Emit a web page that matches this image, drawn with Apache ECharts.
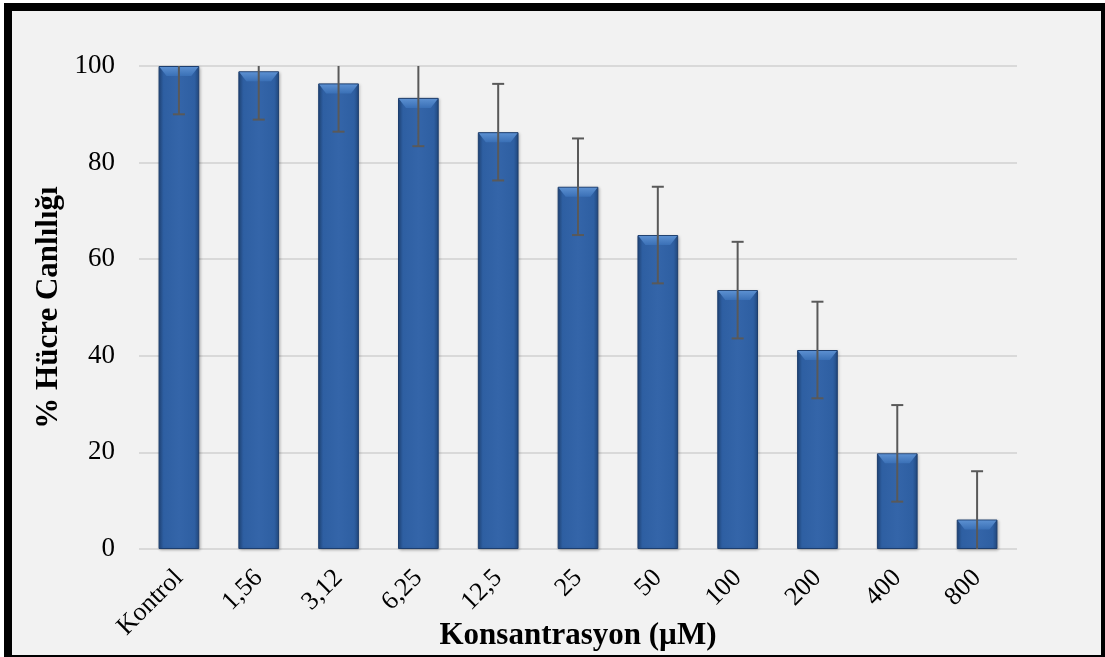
<!DOCTYPE html>
<html><head><meta charset="utf-8">
<script src="https://cdn.jsdelivr.net/npm/echarts@6/dist/echarts.min.js"></script>
<style>
html,body{margin:0;padding:0;background:#fff;overflow:hidden;}
#frame{position:absolute;left:4px;top:3px;width:1105px;height:660px;box-sizing:border-box;border:8px solid #000;background:#f2f2f2;}
#chart{position:absolute;left:0;top:0;width:1105px;height:657px;}
</style></head>
<body>
<div id="frame"></div>
<div id="chart"></div>
<script>
const categories = ['Kontrol','1,56','3,12','6,25','12,5','25','50','100','200','400','800'];
const viability = [100, 98.9, 96.4, 93.4, 86.3, 75.0, 65.0, 53.6, 41.2, 19.8, 6.1];
const errors = [10, 10, 10, 10, 10, 10, 10, 10, 10, 10, 10];
const yTicks = [0, 20, 40, 60, 80, 100];

const chart = echarts.init(document.getElementById('chart'), null, {renderer:'canvas'});
const serif = '"Liberation Serif","Times New Roman",serif';

const barColor = {
  type:'linear', x:0, y:0, x2:1, y2:0,
  colorStops:[
    {offset:0, color:'#22497f'},
    {offset:0.12, color:'#2e5fa2'},
    {offset:0.5, color:'#3465a9'},
    {offset:0.88, color:'#2e5fa2'},
    {offset:1, color:'#22497f'}
  ]
};

chart.setOption({
  backgroundColor:'transparent',
  animation:false,
  grid:{left:139, right:88, top:66, bottom:108, containLabel:false, outerBoundsMode:'none'},
  xAxis:{
    type:'category', data:categories,
    name:'Konsantrasyon (µM)', nameLocation:'middle', nameGap:71, nameMoveOverlap:false,
    nameTextStyle:{fontFamily:serif, fontWeight:'bold', fontSize:31, color:'#000'},
    axisLine:{show:false}, axisTick:{show:false},
    axisLabel:{rotate:45, fontFamily:serif, fontSize:26, color:'#000', margin:25, interval:0}
  },
  yAxis:{
    type:'value', min:0, max:100, interval:20,
    name:'% Hücre Canlılığı', nameLocation:'middle', nameGap:75, nameRotate:90, nameMoveOverlap:false,
    nameTextStyle:{fontFamily:serif, fontWeight:'bold', fontSize:31, color:'#000'},
    axisLine:{show:false}, axisTick:{show:false},
    axisLabel:{fontFamily:serif, fontSize:27, color:'#000', margin:24,
      formatter:v => yTicks.includes(v) ? String(v) : ''},
    splitLine:{lineStyle:{color:'#d9d9d9', width:2}}
  },
  series:[
    {
      type:'bar', data:viability, barWidth:'51%',
      itemStyle:{color:barColor, borderColor:'#1d3e6e', borderWidth:1,
        shadowColor:'rgba(0,0,0,0.25)', shadowBlur:3, shadowOffsetX:1, shadowOffsetY:1}
    },
    {
      type:'custom', clip:true, z:5,
      data:viability.map((v,i)=>[i, v, errors[i]]),
      renderItem:(params, api)=>{
        const x = api.value(0), v = api.value(1), e = api.value(2);
        const top = api.coord([x, v+e]);
        const bot = api.coord([x, v-e]);
        const bw = api.size([1,0])[0]*0.51;
        const cap = 6;
        const bevel = 10;
        const c = api.coord([x, v]);
        const zero = api.coord([x, 0]);
        const h = zero[1]-c[1];
        const bv = Math.min(bevel, h);
        const style = {stroke:'#595959', lineWidth:2};
        return {type:'group', children:[
          {type:'polygon', shape:{points:[[c[0]-bw/2+1,c[1]+1],[c[0]+bw/2-1,c[1]+1],[c[0]+bw/2-bv*0.8,c[1]+bv],[c[0]-bw/2+bv*0.8,c[1]+bv]]},
            style:{fill:{type:'linear',x:0,y:0,x2:0,y2:1,colorStops:[{offset:0,color:'#5b8fd0'},{offset:1,color:'#3a70b6'}]}}},
          {type:'line', shape:{x1:top[0], y1:top[1], x2:bot[0], y2:bot[1]}, style},
          {type:'line', shape:{x1:top[0]-cap, y1:top[1], x2:top[0]+cap, y2:top[1]}, style},
          {type:'line', shape:{x1:bot[0]-cap, y1:bot[1], x2:bot[0]+cap, y2:bot[1]}, style}
        ]};
      }
    }
  ]
});
</script>
</body></html>
